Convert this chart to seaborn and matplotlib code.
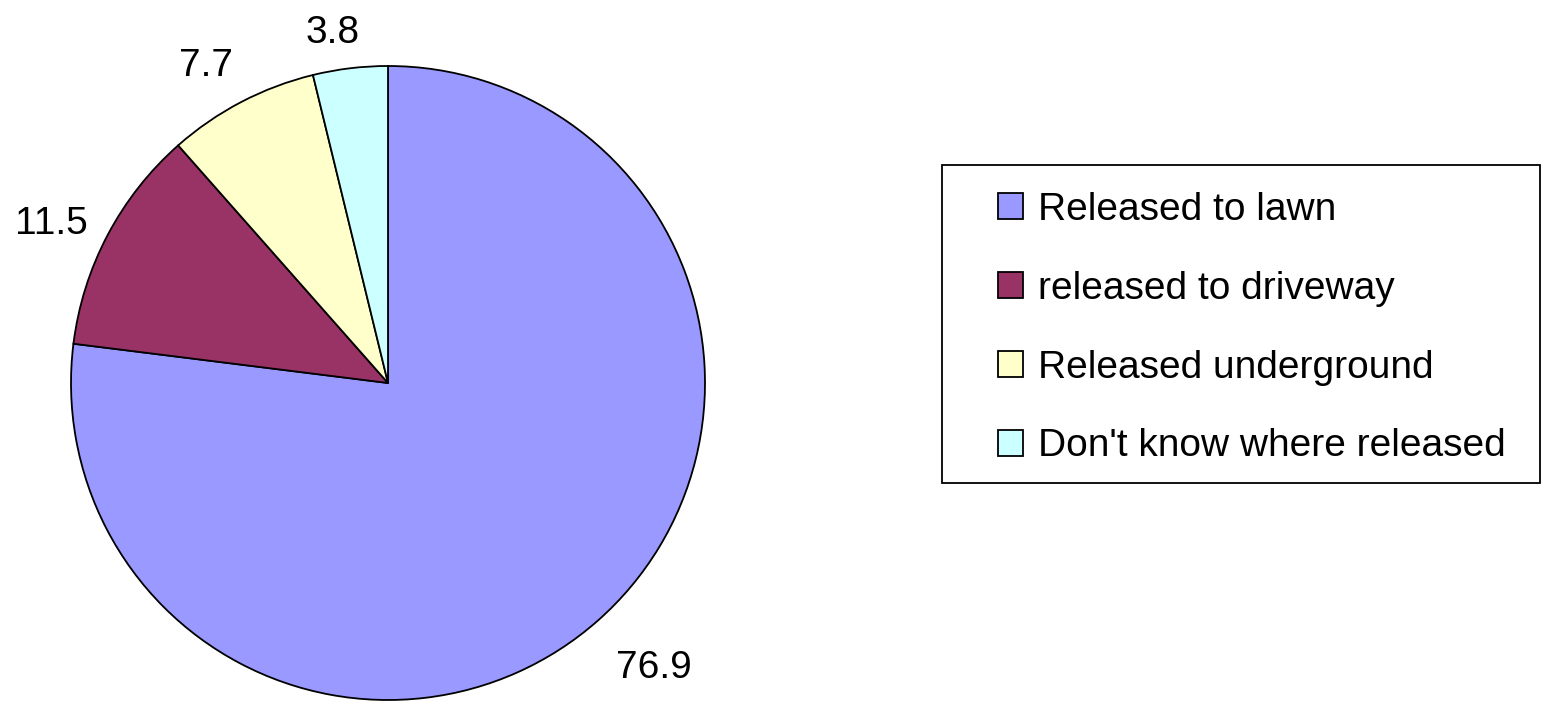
import matplotlib
matplotlib.use("Agg")
import numpy as np
import matplotlib.pyplot as plt
from matplotlib.patches import Rectangle
import seaborn as sns

categories = ["Released to lawn", "released to driveway", "Released underground", "Don't know where released"]
values = [76.9, 11.5, 7.7, 3.8]
value_labels = ["76.9", "11.5", "7.7", "3.8"]
colors = ["#9999FF", "#993366", "#FFFFCC", "#CCFFFF"]
label_dist = [1.22, 1.18, 1.163, 1.131]
label_rot = 2.0  # degrees, small rotation of label anchors

sns.set_theme(style="white")
plt.rcParams['font.family'] = ['Liberation Sans', 'DejaVu Sans']
plt.rcParams['text.color'] = 'black'

W, H = 1553, 701
fig = plt.figure(figsize=(W / 100, H / 100), dpi=100)
fig.patch.set_facecolor("white")

cx, cy, r = 388, 383, 317
ax = fig.add_axes([(cx - r) / W, (H - cy - r) / H, 2 * r / W, 2 * r / H])
wedges, texts = ax.pie(values, labels=value_labels, colors=colors, startangle=90,
                       counterclock=False, radius=1, labeldistance=1.15,
                       wedgeprops=dict(edgecolor="black", linewidth=1.3),
                       textprops=dict(fontsize=28, color="black",
                                      ha="center", va="center_baseline"))
for w, t, d in zip(wedges, texts, label_dist):
    ang = np.deg2rad((w.theta1 + w.theta2) / 2 + label_rot)
    t.set_position((d * np.cos(ang), d * np.sin(ang)))
ax.set_xlim(-1, 1)
ax.set_ylim(-1, 1)
ax.set_aspect("equal")
ax.axis("off")

# legend frame
fig.patches.append(Rectangle((942 / W, 1 - 483 / H), 598 / W, 318 / H,
                             transform=fig.transFigure, facecolor="none",
                             edgecolor="black", linewidth=1.3, zorder=5))

leg = fig.legend(wedges, categories, loc="upper left",
                 bbox_to_anchor=(998 / W, 1 - 192 / H), fontsize=28,
                 frameon=False, borderpad=0, labelspacing=1.1,
                 handlelength=0.64, handleheight=0.64, handletextpad=0.38,
                 borderaxespad=0)
for t in leg.get_texts():
    t.set_color("black")
for h in leg.legend_handles:
    h.set_edgecolor("black")
    h.set_linewidth(1.3)

fig.savefig("out.png", dpi=100, facecolor="white")
